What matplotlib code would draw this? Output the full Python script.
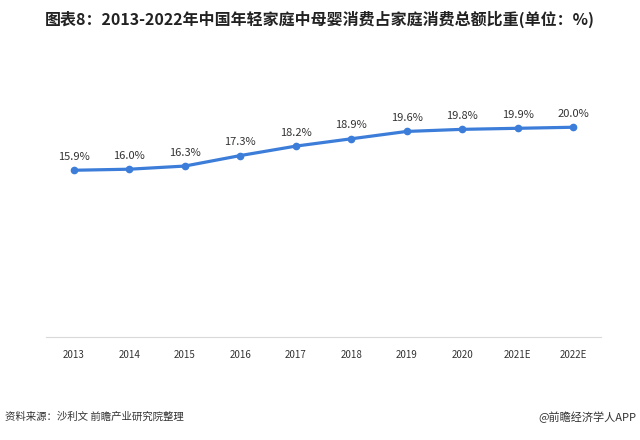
import matplotlib.pyplot as plt

plt.rcParams['font.family'] = ['Noto Sans CJK SC', 'DejaVu Sans']

years = ['2013', '2014', '2015', '2016', '2017', '2018', '2019', '2020', '2021E', '2022E']
share = [15.9, 16.0, 16.3, 17.3, 18.2, 18.9, 19.6, 19.8, 19.9, 20.0]
labels = ['15.9%', '16.0%', '16.3%', '17.3%', '18.2%', '18.9%', '19.6%', '19.8%', '19.9%', '20.0%']

fig = plt.figure(figsize=(6.4, 4.4), dpi=100)
ax = fig.add_axes([0.072, 0.234, 0.867, 0.596])

x = range(len(years))
ax.plot(x, share, color='#3C7DD9', lw=2.3, marker='o', ms=4.5, solid_capstyle='round')
for i, v in enumerate(share):
    ax.annotate(labels[i], (i, v), xytext=(0, 6), textcoords='offset points',
                ha='center', va='bottom', fontsize=8, color='#333333')

ax.set_xlim(-0.5, len(years) - 0.5)
ax.set_ylim(0, 25)
ax.set_xticks(list(x))
ax.set_xticklabels(years, fontsize=7, color='#333333')
ax.set_yticks([])
for s in ['top', 'right', 'left']:
    ax.spines[s].set_visible(False)
ax.spines['bottom'].set_color('#D9D9D9')
ax.tick_params(axis='x', length=0, pad=9)

fig.text(0.5, 0.955, '图表8：2013-2022年中国年轻家庭中母婴消费占家庭消费总额比重(单位：%)',
         ha='center', va='center', fontsize=11.5, fontweight='bold', color='#222222')
fig.text(0.008, 0.052, '资料来源：沙利文 前瞻产业研究院整理', ha='left', va='center',
         fontsize=7.5, color='#333333')
fig.text(0.995, 0.052, '@前瞻经济学人APP', ha='right', va='center',
         fontsize=8, color='#333333')

fig.savefig('out.png', dpi=100)
